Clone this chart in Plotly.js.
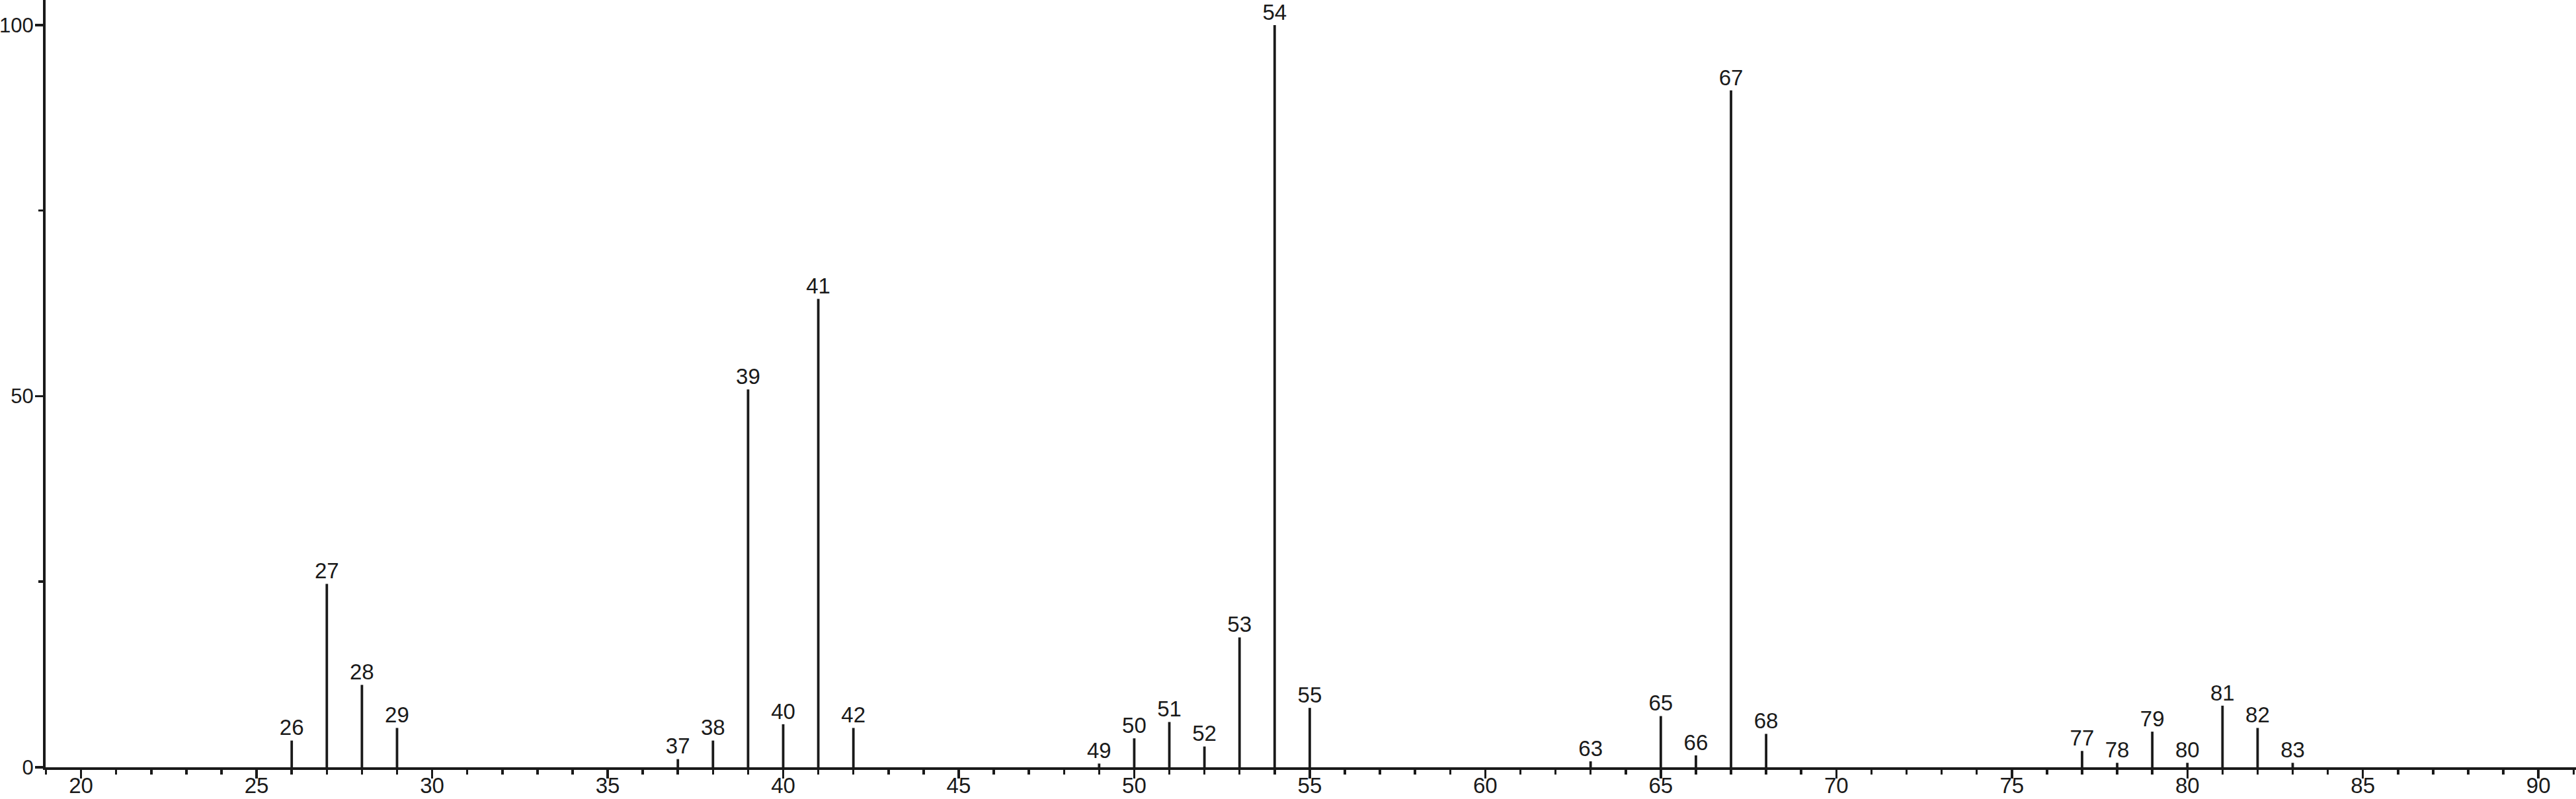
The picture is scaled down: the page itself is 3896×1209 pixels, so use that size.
<!DOCTYPE html>
<html>
<head>
<meta charset="utf-8">
<script src="https://cdn.plot.ly/plotly-3.0.1.min.js"></script>
<style>
html,body{margin:0;padding:0;background:#fff;}
#chart{width:3896px;height:1209px;}
</style>
</head>
<body>
<div id="chart"></div>
<script>
// m/z values of the peaks
const mz = [26,27,28,29,37,38,39,40,41,42,49,50,51,52,53,54,55,63,65,66,67,68,77,78,79,80,81,82,83];
// relative intensities (%)
const intensity = [3.6,24.7,11.1,5.3,1.1,3.6,50.9,5.8,63.1,5.3,0.5,3.9,6.1,2.8,17.5,100,8.0,0.8,6.9,1.6,91.2,4.5,2.2,0.6,4.8,0.6,8.3,5.3,0.6];
// axis ticks
const xTicks = [20,25,30,35,40,45,50,55,60,65,70,75,80,85,90];
const yTicks = [0,50,100];

const ink = '#1a1a1a';
const fam = 'Liberation Sans, Arial, sans-serif';

// stems built from the data arrays
const sx = [], sy = [];
mz.forEach((m, i) => { sx.push(m, m, null); sy.push(0, intensity[i], null); });

const stems = {
  type: 'scatter', mode: 'lines', x: sx, y: sy,
  line: {color: ink, width: 3.8}, hoverinfo: 'skip', showlegend: false
};
const labels = {
  type: 'scatter', mode: 'text', x: mz, y: intensity,
  text: mz.map(String), textposition: 'top center',
  textfont: {family: fam, size: 33, color: ink},
  hoverinfo: 'skip', showlegend: false, cliponaxis: false
};

const layout = {
  width: 3896, height: 1209,
  margin: {l: 69, r: 0, t: 0, b: 48},
  paper_bgcolor: '#fff', plot_bgcolor: '#fff',
  showlegend: false,
  font: {family: fam, size: 33, color: ink},
  xaxis: {
    range: [18.99, 91.07], showgrid: false, zeroline: false,
    showline: true, linecolor: ink, linewidth: 4,
    tickmode: 'array', tickvals: xTicks, ticktext: xTicks.map(String),
    ticks: 'outside', ticklen: 13, tickwidth: 3.5, tickcolor: ink,
    tickfont: {family: fam, size: 33, color: ink},
    ticklabelstandoff: -18,
    minor: {dtick: 1, tick0: 0, ticks: 'outside', ticklen: 7, tickwidth: 3.5, tickcolor: ink, showgrid: false}
  },
  yaxis: {
    range: [0, 103.38], showgrid: false, zeroline: false,
    showline: true, linecolor: ink, linewidth: 4,
    tickmode: 'array', tickvals: yTicks, ticktext: yTicks.map(String),
    ticks: 'outside', ticklen: 12, tickwidth: 3.5, tickcolor: ink,
    tickfont: {family: fam, size: 31, color: ink},
    ticklabelstandoff: -4,
    minor: {dtick: 25, tick0: 0, ticks: 'outside', ticklen: 7, tickwidth: 3.5, tickcolor: ink, showgrid: false}
  }
};

Plotly.newPlot('chart', [stems, labels], layout, {staticPlot: true, displayModeBar: false});
</script>
</body>
</html>
